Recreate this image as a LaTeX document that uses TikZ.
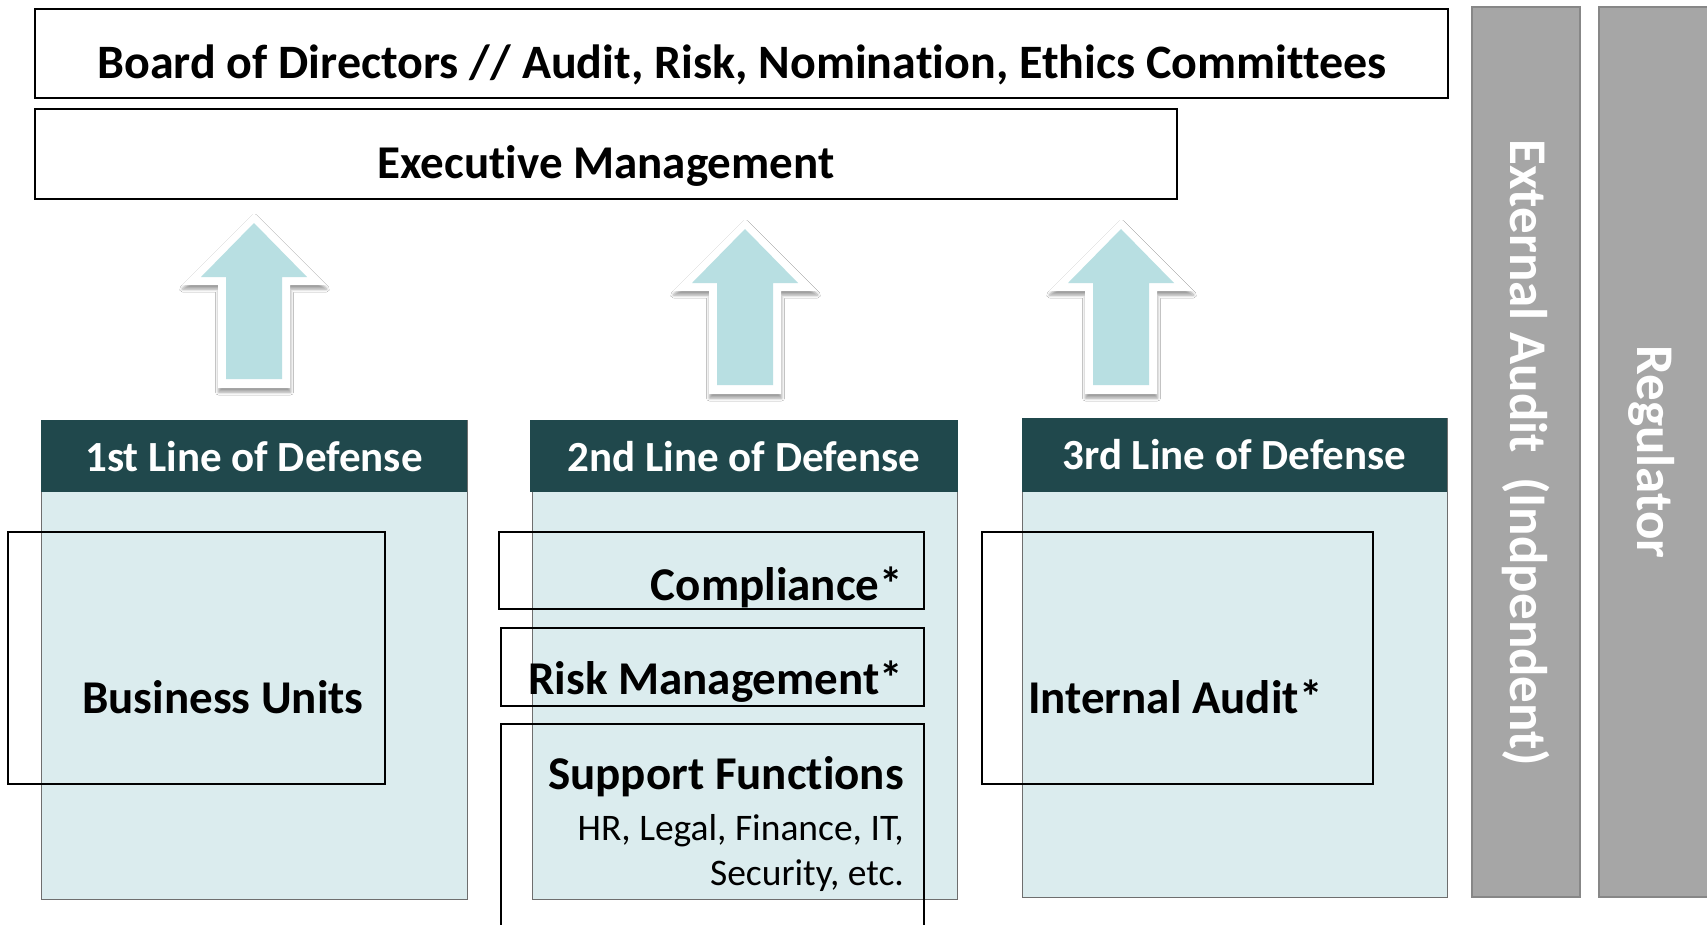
\documentclass[tikz,border=0pt]{standalone}
\usepackage{fontspec}
\setmainfont{Carlito}[Ligatures={NoCommon}]
\usetikzlibrary{shadows.blur}

\definecolor{headteal}{RGB}{32,72,76}
\definecolor{panelfill}{RGB}{219,236,238}
\definecolor{arrowfill}{RGB}{184,223,226}
\definecolor{barfill}{RGB}{166,166,166}
\definecolor{barline}{RGB}{135,135,135}
\definecolor{panelline}{RGB}{110,110,110}

\tikzset{
  boldtext/.style={font=\fontsize{#1}{#1}\selectfont\bfseries, inner sep=0pt},
  plaintext/.style={font=\fontsize{#1}{#1}\selectfont, inner sep=0pt},
  topband/.style={draw=black, line width=1.8pt, fill=white},
  panelbody/.style={draw=panelline, line width=1pt, fill=panelfill},
  panelhead/.style={fill=headteal},
  unitbox/.style={draw=black, line width=1.6pt},
  sidebar/.style={draw=barline, line width=1.5pt, fill=barfill},
  % block arrow pointing up, origin at the tip of the inner (blue) shape
  liftarrow/.pic={
    \fill[white, blur shadow={shadow xshift=0.5pt, shadow yshift=-4pt,
          shadow blur radius=3pt, shadow opacity=40}]
      (0,-10) -- (72,62) -- (36,62) -- (36,165) -- (-36,165)
      -- (-36,62) -- (-72,62) -- cycle;
    \fill[arrowfill]
      (0,0) -- (53,54) -- (28,54) -- (28,156) -- (-28,156)
      -- (-28,54) -- (-53,54) -- cycle;
  }
}

\begin{document}
\begin{tikzpicture}[x=1pt,y=-1pt]
\useasboundingbox[fill=white] (0,0) rectangle (1707,924);

% governance bands
\draw[topband] (35,9) rectangle (1448,98);
\node[boldtext=48, anchor=base] (board) at (742,78)
  {Board of Directors // Audit, Risk, Nomination, Ethics Committees};
\draw[topband] (35,109) rectangle (1177,199);
\node[boldtext=47, anchor=base] (exec) at (606,178) {Executive Management};

% reporting arrows
\pic at (254,223) {liftarrow};
\pic at (745,229) {liftarrow};
\pic at (1121,229) {liftarrow};

% first line
\draw[panelbody] (41,420) rectangle (467,899);
\fill[panelhead] (41,420) rectangle (467,492);
\node[boldtext=43, white, anchor=base] (lod1) at (254,471) {1st Line of Defense};
\draw[unitbox] (8,532) rectangle (385,784);
\node[boldtext=47, anchor=base west] (bu) at (82,713) {Business Units};

% second line
\draw[panelbody] (532,420) rectangle (957,899);
\fill[panelhead] (530,420) rectangle (958,492);
\node[boldtext=43, white, anchor=base] (lod2) at (744,471) {2nd Line of Defense};
\draw[unitbox] (499,532) rectangle (924,609);
\node[boldtext=47, anchor=base east] (comp) at (903,600) {Compliance*};
\draw[unitbox] (501,628) rectangle (924,706);
\node[boldtext=47, anchor=base east] (risk) at (903,694) {Risk Management*};
\draw[unitbox] (501,934) -- (501,724) -- (924,724) -- (924,934);
\node[boldtext=47, anchor=base east] (supp) at (904,789) {Support Functions};
\node[plaintext=37.5, anchor=base east] (supp1) at (904,840) {HR, Legal, Finance, IT,};
\node[plaintext=37.5, anchor=base east] (supp2) at (904,885) {Security, etc.};

% third line
\draw[panelbody] (1022,418) rectangle (1447,897);
\fill[panelhead] (1022,418) rectangle (1447,492);
\node[boldtext=43, white, anchor=base] (lod3) at (1234.5,469) {3rd Line of Defense};
\draw[unitbox] (982,532) rectangle (1373,784);
\node[boldtext=47, anchor=base west] (ia) at (1028,713) {Internal Audit*};

% external parties
\draw[sidebar] (1472,7) rectangle (1580,897);
\node[boldtext=53, white, rotate=-90, anchor=base] (ext) at (1510,453)
  {External Audit\ \ (Indpendent)};
\draw[sidebar] (1599,7) rectangle (1715,897);
\node[boldtext=53, white, rotate=-90, anchor=base] (reg) at (1637,452) {Regulator};
\end{tikzpicture}
\end{document}
